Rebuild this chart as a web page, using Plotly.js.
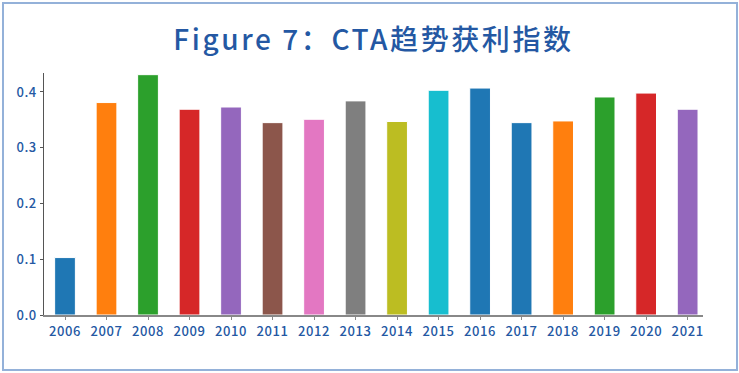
<!DOCTYPE html>
<html>
<head>
<meta charset="utf-8">
<script src="https://cdn.plot.ly/plotly-3.0.1.min.js"></script>
<style>
  html, body { margin: 0; padding: 0; background: #ffffff; }
  #wrap { position: relative; width: 739px; height: 373px; }
  #chart { width: 739px; height: 373px; }
  #frame { position: absolute; left: 2px; top: 2px; width: 732px; height: 365px;
           border: 2px solid #94b1d9; pointer-events: none; }
  #chart .gtitle { letter-spacing: 2.6px; }
  #chart .xtick text, #chart .ytick text { letter-spacing: 0.6px; }
</style>
</head>
<body>
<div id="wrap">
  <div id="chart"></div>
  <div id="frame"></div>
</div>
<script>
const years = ['2006','2007','2008','2009','2010','2011','2012','2013','2014','2015','2016','2017','2018','2019','2020','2021'];
const values = [0.103, 0.381, 0.431, 0.369, 0.373, 0.345, 0.351, 0.384, 0.347, 0.403, 0.407, 0.345, 0.348, 0.391, 0.398, 0.369];
const barColors = ['#1f77b4','#ff7f0e','#2ca02c','#d62728','#9467bd','#8c564b','#e377c2','#7f7f7f','#bcbd22','#17becf','#1f77b4','#1f77b4','#ff7f0e','#2ca02c','#d62728','#9467bd'];
const yTicks = [0, 0.1, 0.2, 0.3, 0.4];
const yTickLabels = ['0.0','0.1','0.2','0.3','0.4'];
const titleText = 'Figure 7：CTA趋势获利指数';

const blue = '#2458a3';
const tickFont = { family: 'Noto Sans CJK SC, Noto Sans, sans-serif', size: 13, color: blue, weight: 500 };

const trace = {
  type: 'bar',
  x: years.map((y, i) => i),
  y: values,
  width: 0.5,
  marker: { color: barColors, line: { color: '#ffffff', width: 1 } },
  hoverinfo: 'x+y'
};

const layout = {
  width: 739, height: 373,
  margin: { l: 44, r: 36, t: 73, b: 58 },
  paper_bgcolor: '#ffffff', plot_bgcolor: '#ffffff',
  showlegend: false,
  title: {
    text: titleText,
    font: { family: 'Noto Sans CJK SC, sans-serif', size: 28, color: blue, weight: 500 },
    x: 0.5, xanchor: 'center', xref: 'paper',
    y: 1 - 40 / 373, yanchor: 'middle', yref: 'container'
  },
  xaxis: {
    range: [-0.506, 15.37],
    tickmode: 'array', tickvals: years.map((y, i) => i), ticktext: years,
    showgrid: false, zeroline: false,
    showline: true, linecolor: '#888888', linewidth: 1.5,
    ticks: 'outside', ticklen: 3.5, tickcolor: '#888888', tickwidth: 1,
    tickfont: tickFont, fixedrange: true
  },
  yaxis: {
    range: [0, 0.434],
    tickmode: 'array', tickvals: yTicks, ticktext: yTickLabels,
    showgrid: false, zeroline: false,
    showline: true, linecolor: '#555555', linewidth: 1,
    ticks: 'outside', ticklen: 3.5, tickcolor: '#555555', tickwidth: 1,
    tickfont: tickFont, fixedrange: true
  },
  bargap: 0.5
};

Plotly.newPlot('chart', [trace], layout, { displayModeBar: false, staticPlot: true });
</script>
</body>
</html>
